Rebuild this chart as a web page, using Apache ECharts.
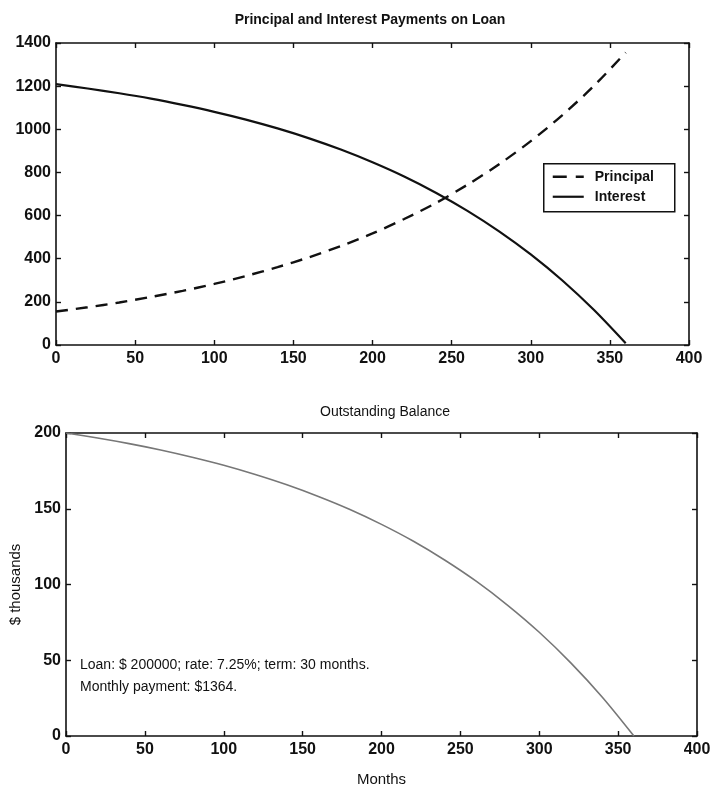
<!DOCTYPE html>
<html>
<head>
<meta charset="utf-8">
<script src="https://cdn.jsdelivr.net/npm/echarts@6/dist/echarts.min.js"></script>
<style>
  html, body { margin: 0; padding: 0; background: #fff; }
  #chart { width: 711px; height: 787px; }
</style>
</head>
<body>
<div id="chart"></div>
<script>
// Payment month of each sample
const months = [0, 20, 40, 60, 80, 100, 120, 140, 160, 180, 200, 220, 240, 260, 280, 300, 320, 340, 360];
// Principal part of the monthly payment ($)
const principal = [155, 175, 197, 223, 251, 283, 320, 361, 407, 459, 517, 584, 658, 743, 838, 945, 1066, 1202, 1356];
// Interest part of the monthly payment ($)
const interest = [1209, 1189, 1167, 1142, 1113, 1081, 1045, 1004, 958, 906, 847, 781, 706, 622, 527, 420, 299, 162, 8];
// Outstanding balance ($ thousands)
const balance = [200, 196.7, 193.0, 188.8, 184.0, 178.7, 172.6, 165.8, 158.1, 149.5, 139.7, 128.7, 116.2, 102.2, 86.3, 68.5, 48.3, 25.6, 0];

const legendNames = ['Principal', 'Interest'];
const noteLines = ['Loan: $ 200000; rate: 7.25%; term: 30 months.', 'Monthly payment: $1364.'];

const FONT = 'Liberation Sans, Arial, sans-serif';
const INK = '#111';
const tickLabel = { color: INK, fontFamily: FONT, fontSize: 16, fontWeight: 'bold', formatter: v => String(v) };

function pairs(xs, ys) { return xs.map((x, i) => [x, ys[i]]); }

// One side of a boxed plot: line, inward ticks, optional labels
function sideAxis(grid, min, max, interval, showLabels, position, labelMargin) {
  return {
    type: 'value', gridIndex: grid, min, max, interval, position,
    axisLine: { show: true, onZero: false, lineStyle: { color: INK, width: 1.6 } },
    axisTick: { show: true, inside: true, length: 5, lineStyle: { color: INK, width: 1.4 } },
    axisLabel: Object.assign({ show: showLabels, margin: labelMargin }, tickLabel),
    splitLine: { show: false }
  };
}

// Legend box drawn for the upper plot
const LG = { x: 543, y: 163, w: 131, h: 48 };
const legendGraphic = {
  type: 'group', left: LG.x, top: LG.y,
  children: [
    { type: 'rect', shape: { x: 0, y: 0, width: LG.w, height: LG.h },
      style: { fill: '#fff', stroke: INK, lineWidth: 1.5 } },
    { type: 'line', shape: { x1: 9, y1: 13, x2: 40, y2: 13 },
      style: { stroke: INK, lineWidth: 2.4, lineDash: [14, 9] } },
    { type: 'line', shape: { x1: 9, y1: 33, x2: 40, y2: 33 },
      style: { stroke: INK, lineWidth: 2.2 } },
    { type: 'text', x: 51, y: 13,
      style: { text: legendNames[0], fontFamily: FONT, fontSize: 14, fontWeight: 'bold', fill: INK, verticalAlign: 'middle' } },
    { type: 'text', x: 51, y: 33,
      style: { text: legendNames[1], fontFamily: FONT, fontSize: 14, fontWeight: 'bold', fill: INK, verticalAlign: 'middle' } }
  ]
};

const chart = echarts.init(document.getElementById('chart'), null, { renderer: 'canvas' });
chart.setOption({
  backgroundColor: '#fff',
  animation: false,
  title: [
    { text: 'Principal and Interest Payments on Loan', left: 365, top: 8, textAlign: 'center',
      textStyle: { fontFamily: FONT, fontSize: 14, fontWeight: 'bold', color: INK } },
    { text: 'Outstanding Balance', left: 380, top: 400, textAlign: 'center',
      textStyle: { fontFamily: FONT, fontSize: 14, fontWeight: 'normal', color: INK } }
  ],
  grid: [
    { left: 56, right: 22, top: 43, height: 302, outerBoundsMode: 'none' },
    { left: 66, right: 14, top: 433, height: 303, outerBoundsMode: 'none' }
  ],
  xAxis: [
    sideAxis(0, 0, 400, 50, true, 'bottom', 6),
    sideAxis(0, 0, 400, 50, false, 'top', 6),
    Object.assign(sideAxis(1, 0, 400, 50, true, 'bottom', 6), {
      name: 'Months', nameLocation: 'middle', nameGap: 36,
      nameTextStyle: { fontFamily: FONT, fontSize: 15, color: INK }
    }),
    sideAxis(1, 0, 400, 50, false, 'top', 6)
  ],
  yAxis: [
    sideAxis(0, 0, 1400, 200, true, 'left', 5),
    sideAxis(0, 0, 1400, 200, false, 'right', 5),
    Object.assign(sideAxis(1, 0, 200, 50, true, 'left', 5), {
      name: '$ thousands', nameLocation: 'middle', nameGap: 42, nameRotate: 90,
      nameTextStyle: { fontFamily: FONT, fontSize: 15, color: INK }
    }),
    sideAxis(1, 0, 200, 50, false, 'right', 5)
  ],
  series: [
    { name: 'Principal', type: 'line', xAxisIndex: 0, yAxisIndex: 0, smooth: 0.3,
      showSymbol: false, symbol: 'none', data: pairs(months, principal),
      lineStyle: { color: INK, width: 2.4, type: [12, 8] } },
    { name: 'Interest', type: 'line', xAxisIndex: 0, yAxisIndex: 0, smooth: 0.3,
      showSymbol: false, symbol: 'none', data: pairs(months, interest),
      lineStyle: { color: INK, width: 2.2 } },
    { name: 'Balance', type: 'line', xAxisIndex: 2, yAxisIndex: 2, smooth: 0.3,
      showSymbol: false, symbol: 'none', data: pairs(months, balance),
      lineStyle: { color: '#777', width: 1.6 } }
  ],
  graphic: [
    legendGraphic,
    { type: 'text', left: 80, top: 654,
      style: { text: noteLines.join('\n'), fontFamily: FONT, fontSize: 14, lineHeight: 22, fill: INK } }
  ]
});
</script>
</body>
</html>
